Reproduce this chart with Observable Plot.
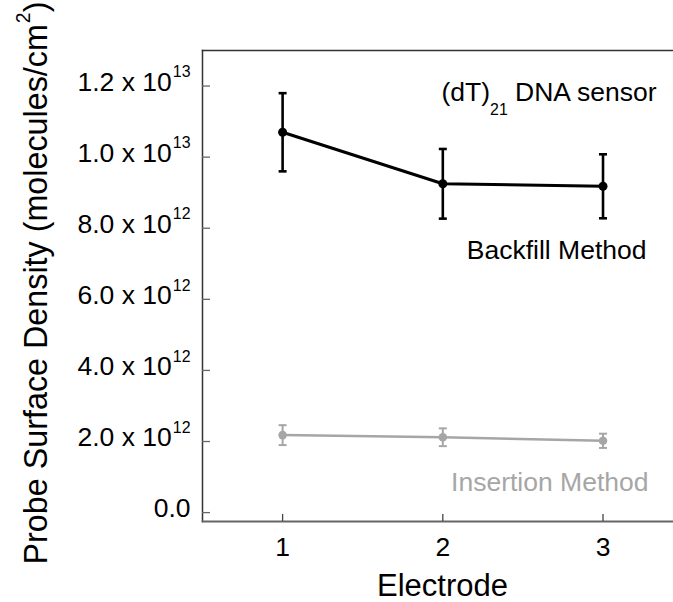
<!DOCTYPE html>
<html>
<head>
<meta charset="utf-8">
<script src="https://cdn.jsdelivr.net/npm/d3@7"></script>
<script src="https://cdn.jsdelivr.net/npm/@observablehq/plot@0.6"></script>
<style>
  html, body { margin: 0; padding: 0; background: #fff; }
  svg { display: block; }
</style>
</head>
<body>
<div id="chart"></div>
<script>
// ---- data ----
const electrodes = [1, 2, 3];
const backfillMean = [10.7e12, 9.25e12, 9.18e12];
const backfillErr = [1.1e12, 0.98e12, 0.9e12];
const insertionMean = [2.18e12, 2.12e12, 2.02e12];
const insertionErr = [0.28e12, 0.25e12, 0.2e12];

const xTicks = [1, 2, 3];
const xTickLabels = ["1", "2", "3"];
const yTicks = [0, 2e12, 4e12, 6e12, 8e12, 1e13, 1.2e13];
const yTickLabels = ["0.0", "2.0 x 10^{12}", "4.0 x 10^{12}", "6.0 x 10^{12}", "8.0 x 10^{12}", "1.0 x 10^{13}", "1.2 x 10^{13}"];

const xTitle = "Electrode";
const yTitle = "Probe Surface Density (molecules/cm^{2})";
const sensorLabel = "(dT)_{21} DNA sensor";
const backfillLabel = "Backfill Method";
const insertionLabel = "Insertion Method";

const BLACK = "#000000";
const GRAY = "#a6a6a6";

const backfill = electrodes.map((e, i) => ({x: e, y: backfillMean[i], lo: backfillMean[i] - backfillErr[i], hi: backfillMean[i] + backfillErr[i]}));
const insertion = electrodes.map((e, i) => ({x: e, y: insertionMean[i], lo: insertionMean[i] - insertionErr[i], hi: insertionMean[i] + insertionErr[i]}));

const capSymbol = {
  draw(context, size) {
    const w = 4;
    context.moveTo(-w, 0);
    context.lineTo(w, 0);
  }
};

function series(data, color, lw, ew, r) {
  return [
    Plot.line(data, {x: "x", y: "y", stroke: color, strokeWidth: lw}),
    Plot.ruleX(data, {x: "x", y1: "lo", y2: "hi", stroke: color, strokeWidth: ew}),
    Plot.dot(data, {x: "x", y: "hi", symbol: capSymbol, stroke: color, strokeWidth: ew, fill: "none", r: 4}),
    Plot.dot(data, {x: "x", y: "lo", symbol: capSymbol, stroke: color, strokeWidth: ew, fill: "none", r: 4}),
    Plot.dot(data, {x: "x", y: "y", fill: color, r: r, stroke: "none"})
  ];
}

const plotW = 673 - 202 - 0;
const plotH = 602 - 50 - 81;

const chart = Plot.plot({
  width: 673,
  height: 602,
  marginLeft: 202,
  marginRight: 0,
  marginTop: 50,
  marginBottom: 81,
  style: {fontFamily: "'Liberation Sans', Arial, sans-serif", background: "#fff", color: "#000"},
  x: {domain: [0.5, 3.44], axis: null},
  y: {domain: [-0.25e12, 1.3e13], axis: null},
  marks: [
    Plot.frame({anchor: "top", stroke: "#333", strokeWidth: 1.5}),
    Plot.frame({anchor: "left", stroke: "#333", strokeWidth: 1.5}),
    Plot.frame({anchor: "bottom", stroke: "#666", strokeWidth: 1.8}),
    Plot.tickY(yTicks, {y: d => d, insetRight: plotW - 8, stroke: "#666", strokeWidth: 1.3}),
    Plot.tickX(xTicks, {x: d => d, insetTop: plotH - 7, stroke: "#444", strokeWidth: 1.3}),
    Plot.text(yTicks, {y: d => d, text: (d, i) => yTickLabels[i], frameAnchor: "left", textAnchor: "end", lineAnchor: "middle", dx: -12, dy: -4, fontSize: 26.5, fill: BLACK}),
    Plot.text(xTicks, {x: d => d, text: (d, i) => xTickLabels[i], frameAnchor: "bottom", textAnchor: "middle", lineAnchor: "top", dy: 16, fontSize: 26.5, fill: BLACK}),
    ...series(insertion, GRAY, 2.5, 2, 4.3),
    ...series(backfill, BLACK, 3, 2.6, 4.5),
    Plot.text([sensorLabel], {frameAnchor: "top-right", textAnchor: "end", lineAnchor: "bottom", dx: -17, dy: 50, fontSize: 26.5, fill: BLACK}),
    Plot.text([backfillLabel], {frameAnchor: "top-right", textAnchor: "end", lineAnchor: "bottom", dx: -27, dy: 208, fontSize: 26.5, fill: BLACK}),
    Plot.text([insertionLabel], {frameAnchor: "top-right", textAnchor: "end", lineAnchor: "bottom", dx: -25, dy: 440, fontSize: 26.5, fill: GRAY}),
    Plot.text([xTitle], {frameAnchor: "bottom", textAnchor: "middle", lineAnchor: "bottom", dx: 4.5, dy: 74, fontSize: 31, fill: BLACK}),
    Plot.text([yTitle], {frameAnchor: "left", textAnchor: "middle", rotate: -90, lineAnchor: "bottom", dx: -156, dy: -3, fontSize: 32.3, fill: BLACK})
  ]
});

document.getElementById("chart").appendChild(chart);

// Render ^{..} as superscript and _{..} as subscript tspans
d3.select(chart).selectAll("text").each(function() {
  const s = this.textContent;
  if (!/[\^_]\{/.test(s)) return;
  const fs = parseFloat(window.getComputedStyle(this).fontSize) || 25;
  const parts = s.split(/([\^_]\{[^}]*\})/).filter(p => p.length);
  this.textContent = "";
  let shift = 0;
  for (const p of parts) {
    const m = p.match(/^([\^_])\{([^}]*)\}$/);
    const t = d3.select(this).append("tspan");
    if (m) {
      const off = m[1] === "^" ? -0.5 * fs : 0.55 * fs;
      t.attr("dy", off - shift).attr("font-size", (0.6 * fs).toFixed(1)).attr("dx", m[1] === "^" ? 1 : 0).text(m[2]);
      shift = off;
    } else {
      t.attr("dy", -shift).text(p);
      shift = 0;
    }
  }
});
</script>
</body>
</html>
